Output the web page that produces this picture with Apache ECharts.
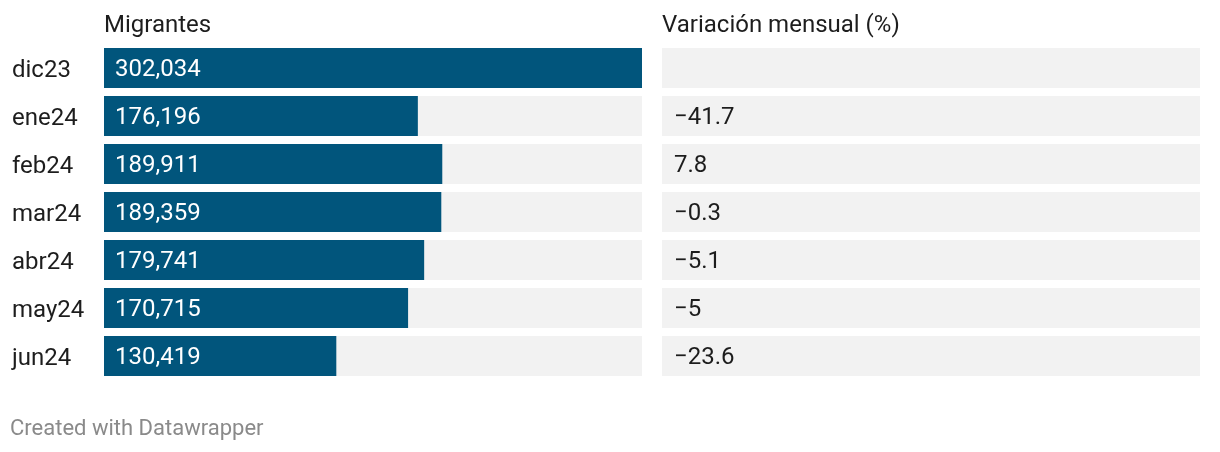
<!DOCTYPE html>
<html>
<head>
<meta charset="utf-8">
<script src="https://cdn.jsdelivr.net/npm/echarts@6/dist/echarts.min.js"></script>
<style>
html,body{margin:0;padding:0;background:#fff;}
#chart{width:1220px;height:452px;}
</style>
</head>
<body>
<div id="chart"></div>
<script>
var categories = ['dic23','ene24','feb24','mar24','abr24','may24','jun24'];
var migrantes = [302034,176196,189911,189359,179741,170715,130419];
var variacion = [null,-41.7,7.8,-0.3,-5.1,-5,-23.6];
var titles = ['Migrantes','Variación mensual (%)'];
var footer = 'Created with Datawrapper';

var FONT = 'Roboto';
var TXT = '#1d1d1d';
function fmtNum(v){return v.toLocaleString('en-US');}
function fmtVar(v){if(v===null||v===undefined)return '';return String(v).replace('-','\u2212');}

var chart = echarts.init(document.getElementById('chart'), null, {renderer:'canvas'});
var option = {
  animation:false,
  backgroundColor:'#ffffff',
  grid:[
    {left:104, width:538, top:44, height:336},
    {left:662, width:538, top:44, height:336}
  ],
  xAxis:[
    {gridIndex:0, type:'value', min:0, max:302034, show:false},
    {gridIndex:1, type:'value', min:0, max:1, show:false}
  ],
  yAxis:[
    {gridIndex:0, type:'category', data:categories, inverse:true,
     axisLine:{show:false}, axisTick:{show:false}, splitLine:{show:false},
     axisLabel:{show:true, align:'left', margin:92, formatter:'{a|{value}}',
       rich:{a:{fontFamily:FONT, fontSize:24, color:TXT, padding:[5,0,0,0]}}}},
    {gridIndex:1, type:'category', data:categories, inverse:true, show:false}
  ],
  series:[
    {type:'bar', xAxisIndex:0, yAxisIndex:0, data:migrantes, barWidth:40,
     showBackground:true, backgroundStyle:{color:'#f2f2f2'},
     itemStyle:{color:'#01557c'},
     label:{show:true, position:'insideLeft', distance:11, offset:[0,1.5], fontFamily:FONT, fontSize:24, color:'#ffffff',
       formatter:function(p){return fmtNum(p.value);}},
     silent:true},
    {type:'bar', xAxisIndex:1, yAxisIndex:1, data:variacion.map(function(){return 0;}), barWidth:40,
     showBackground:true, backgroundStyle:{color:'#f2f2f2'},
     itemStyle:{color:'#f2f2f2'},
     label:{show:true, position:'insideLeft', distance:12, offset:[0,1.5], fontFamily:FONT, fontSize:24, color:TXT,
       formatter:function(p){return fmtVar(variacion[p.dataIndex]);}},
     silent:true}
  ],
  graphic:[
    {type:'text', left:104, top:14, style:{text:titles[0], font:'24px Roboto', fill:TXT}},
    {type:'text', left:662, top:14, style:{text:titles[1], font:'24px Roboto', fill:TXT}},
    {type:'text', left:10, top:418, style:{text:footer, font:'22px Roboto', fill:'#8a8a8a'}}
  ]
};
chart.setOption(option);
</script>
</body>
</html>
